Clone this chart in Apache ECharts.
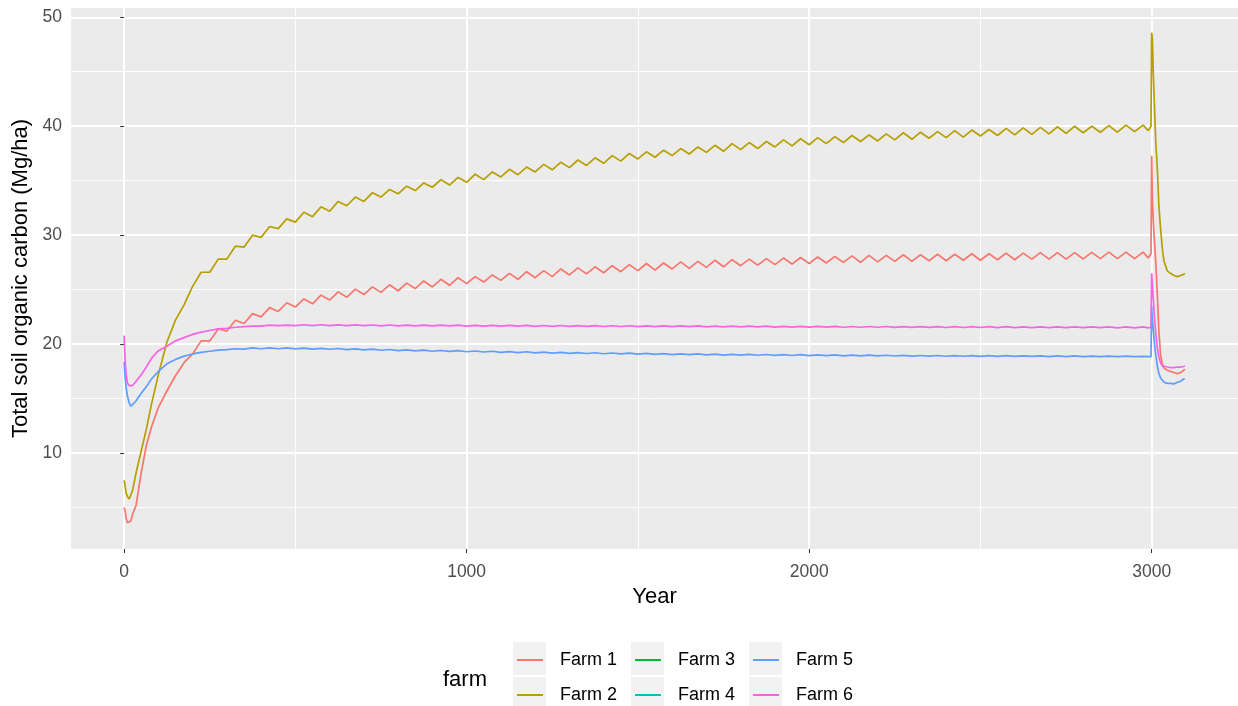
<!DOCTYPE html>
<html>
<head>
<meta charset="utf-8">
<script src="https://cdn.jsdelivr.net/npm/echarts@6.0.0/dist/echarts.min.js"></script>
<style>
html,body{margin:0;padding:0;background:#fff;}
#chart{width:1238px;height:706px;}
</style>
</head>
<body>
<div id="chart"></div>
<script>
// ---- data ----
const years = [
  0, 3, 6, 10, 15, 20, 25, 35, 50, 65, 80, 100, 125, 150, 175,
  200, 225, 250, 275, 300, 325, 350, 375,
  400, 425, 450, 475, 500, 525, 550, 575,
  600, 625, 650, 675, 700, 725, 750, 775,
  800, 825, 850, 875, 900, 925, 950, 975,
  1000, 1025, 1050, 1075, 1100, 1125, 1150, 1175,
  1200, 1225, 1250, 1275, 1300, 1325, 1350, 1375,
  1400, 1425, 1450, 1475, 1500, 1525, 1550, 1575,
  1600, 1625, 1650, 1675, 1700, 1725, 1750, 1775,
  1800, 1825, 1850, 1875, 1900, 1925, 1950, 1975,
  2000, 2025, 2050, 2075, 2100, 2125, 2150, 2175,
  2200, 2225, 2250, 2275, 2300, 2325, 2350, 2375,
  2400, 2425, 2450, 2475, 2500, 2525, 2550, 2575,
  2600, 2625, 2650, 2675, 2700, 2725, 2750, 2775,
  2800, 2825, 2850, 2875, 2900, 2925, 2950, 2975,
  2990, 2998, 3000, 3002, 3005, 3008, 3012, 3017, 3021, 3026, 3031, 3036, 3046, 3055, 3065, 3075, 3085, 3093, 3097
];

const farm1 = [
  5.0, 4.7, 4.0, 3.6, 3.5, 3.8, 4.4, 5.2, 8.2, 10.7, 12.4, 14.2, 15.7, 17.1, 18.3,
  19.1, 20.3, 20.3, 21.4, 21.2, 22.2, 21.9, 22.8,
  22.5, 23.35, 23.0, 23.8, 23.4, 24.15, 23.7, 24.5,
  24.05, 24.8, 24.3, 25.05, 24.55, 25.25, 24.75, 25.45,
  24.9, 25.6, 25.1, 25.8, 25.25, 25.95, 25.4, 26.1,
  25.55, 26.2, 25.7, 26.35, 25.85, 26.5, 25.95, 26.65,
  26.1, 26.75, 26.2, 26.9, 26.35, 27.0, 26.45, 27.1,
  26.55, 27.2, 26.65, 27.3, 26.75, 27.4, 26.8, 27.45,
  26.9, 27.55, 26.95, 27.6, 27.05, 27.7, 27.1, 27.75,
  27.2, 27.8, 27.25, 27.85, 27.3, 27.9, 27.35, 27.95,
  27.4, 28.0, 27.45, 28.05, 27.5, 28.1, 27.5, 28.15,
  27.55, 28.15, 27.6, 28.2, 27.6, 28.2, 27.65, 28.25,
  27.65, 28.25, 27.7, 28.3, 27.7, 28.3, 27.75, 28.35,
  27.75, 28.35, 27.8, 28.4, 27.8, 28.4, 27.8, 28.4,
  27.82, 28.42, 27.85, 28.45, 27.85, 28.45, 27.85, 28.45,
  27.9, 28.3, 37.3, 33.4, 31.0, 29.5, 27.5, 24.2, 21.2, 19.0, 18.2, 17.8, 17.6, 17.5, 17.4, 17.3, 17.4, 17.6, 17.7
];

const farm2 = [
  7.5, 7.0, 6.3, 6.0, 5.8, 5.9, 6.6, 8.2, 10.2, 12.2, 14.5, 17.2, 20.2, 22.2, 23.6,
  25.3, 26.6, 26.6, 27.8, 27.8, 29.0, 28.9, 30.0,
  29.8, 30.8, 30.6, 31.5, 31.2, 32.1, 31.7, 32.6,
  32.2, 33.1, 32.7, 33.5, 33.1, 33.9, 33.5, 34.2,
  33.8, 34.5, 34.1, 34.8, 34.4, 35.1, 34.6, 35.3,
  34.85, 35.6, 35.1, 35.8, 35.35, 36.05, 35.55, 36.25,
  35.8, 36.5, 36.0, 36.7, 36.2, 36.9, 36.4, 37.1,
  36.6, 37.3, 36.8, 37.5, 37.0, 37.65, 37.15, 37.8,
  37.3, 37.95, 37.45, 38.1, 37.6, 38.25, 37.7, 38.4,
  37.85, 38.5, 37.95, 38.6, 38.1, 38.75, 38.2, 38.85,
  38.3, 38.95, 38.4, 39.05, 38.5, 39.15, 38.6, 39.2,
  38.65, 39.3, 38.75, 39.4, 38.8, 39.45, 38.9, 39.5,
  38.95, 39.6, 39.0, 39.65, 39.1, 39.7, 39.15, 39.8,
  39.2, 39.85, 39.25, 39.9, 39.3, 39.95, 39.35, 40.0,
  39.4, 40.0, 39.45, 40.05, 39.45, 40.1, 39.5, 40.1,
  39.6, 40.0, 48.6, 48.0, 44.6, 42.0, 38.5, 35.8, 32.7, 30.6, 28.8, 27.6, 26.7, 26.5, 26.3, 26.2, 26.3, 26.4, 26.5
];

const farm3 = [];
const farm4 = [];

const farm5 = [
  18.4, 17.0, 16.0, 15.2, 14.6, 14.3, 14.35, 14.8, 15.5, 16.1, 16.8, 17.5, 18.2, 18.6, 18.9,
  19.1, 19.25, 19.35, 19.45, 19.5, 19.58, 19.55, 19.65,
  19.58, 19.66, 19.58, 19.65, 19.57, 19.64, 19.55, 19.62,
  19.53, 19.6, 19.5, 19.57, 19.47, 19.54, 19.44, 19.51,
  19.41, 19.48, 19.38, 19.45, 19.35, 19.42, 19.33, 19.4,
  19.3, 19.37, 19.28, 19.35, 19.25, 19.32, 19.23, 19.3,
  19.2, 19.27, 19.18, 19.25, 19.16, 19.23, 19.14, 19.21,
  19.12, 19.19, 19.1, 19.17, 19.08, 19.15, 19.06, 19.13,
  19.04, 19.11, 19.03, 19.1, 19.01, 19.08, 19.0, 19.07,
  18.99, 19.06, 18.98, 19.05, 18.97, 19.04, 18.96, 19.03,
  18.95, 19.02, 18.94, 19.01, 18.93, 19.0, 18.92, 18.99,
  18.92, 18.98, 18.91, 18.97, 18.9, 18.96, 18.9, 18.96,
  18.89, 18.95, 18.89, 18.95, 18.88, 18.94, 18.88, 18.94,
  18.87, 18.93, 18.87, 18.93, 18.86, 18.92, 18.86, 18.92,
  18.85, 18.9, 18.85, 18.9, 18.85, 18.9, 18.85, 18.88,
  18.85, 18.85, 23.5, 22.2, 21.2, 20.2, 19.0, 17.9, 17.3, 16.9, 16.7, 16.5, 16.4, 16.4, 16.35, 16.5, 16.6, 16.8, 16.8
];

const farm6 = [
  20.8, 18.6, 17.2, 16.4, 16.2, 16.1, 16.2, 16.6, 17.2, 17.9, 18.7, 19.4, 19.8, 20.3, 20.6,
  20.9, 21.1, 21.25, 21.4, 21.45, 21.55, 21.6, 21.65,
  21.65, 21.75, 21.7, 21.75, 21.7, 21.78, 21.7, 21.78,
  21.7, 21.77, 21.7, 21.77, 21.7, 21.76, 21.68, 21.76,
  21.68, 21.75, 21.68, 21.75, 21.67, 21.74, 21.67, 21.74,
  21.66, 21.73, 21.66, 21.73, 21.65, 21.72, 21.65, 21.72,
  21.64, 21.71, 21.64, 21.71, 21.63, 21.7, 21.63, 21.7,
  21.62, 21.69, 21.62, 21.69, 21.61, 21.68, 21.61, 21.68,
  21.6, 21.67, 21.6, 21.67, 21.59, 21.66, 21.59, 21.66,
  21.58, 21.65, 21.58, 21.65, 21.57, 21.64, 21.57, 21.64,
  21.56, 21.63, 21.56, 21.63, 21.55, 21.62, 21.55, 21.62,
  21.55, 21.62, 21.54, 21.61, 21.54, 21.61, 21.54, 21.61,
  21.53, 21.6, 21.53, 21.6, 21.53, 21.6, 21.52, 21.6,
  21.52, 21.59, 21.52, 21.59, 21.52, 21.59, 21.51, 21.58,
  21.51, 21.58, 21.51, 21.58, 21.5, 21.58, 21.5, 21.58,
  21.5, 21.55, 26.5, 25.5, 24.0, 22.5, 21.0, 19.6, 18.8, 18.3, 18.0, 17.9, 17.9, 17.85, 17.85, 17.9, 17.9, 17.95, 18.0
];

const farmNames = ['Farm 1', 'Farm 2', 'Farm 3', 'Farm 4', 'Farm 5', 'Farm 6'];
const farmValues = [farm1, farm2, farm3, farm4, farm5, farm6];
const farmColors = ['#F8766D', '#B79F00', '#00BA38', '#00BFC4', '#619CFF', '#F564E3'];

const xTicks = [0, 1000, 2000, 3000];
const xMinorTicks = [500, 1500, 2500];
const yTicks = [10, 20, 30, 40, 50];
const yMinorTicks = [5, 15, 25, 35, 45];

const X_MIN = -155, X_MAX = 3252;
const Y_MIN = 1.2, Y_MAX = 50.85;

// ---- chart ----
const FONT = '"Liberation Sans", Arial, sans-serif';
const chart = echarts.init(document.getElementById('chart'), null, {renderer: 'canvas'});

const series = farmNames.map((name, i) => ({
  name: name,
  type: 'line',
  xAxisIndex: 0,
  yAxisIndex: 0,
  showSymbol: false,
  symbol: 'none',
  color: farmColors[i],
  lineStyle: {width: 1.7, color: farmColors[i]},
  data: farmValues[i].map((v, j) => [years[j], v]),
  animation: false,
  silent: true
}));

const legendBase = {
  orient: 'vertical',
  itemWidth: 26,
  itemHeight: 2,
  itemGap: 13,
  icon: 'rect',
  padding: 0,
  selectedMode: false,
  textStyle: {fontSize: 18, color: '#000', fontFamily: FONT, lineHeight: 22, padding: [0, 0, 0, 12]}
};

const keyBoxes = [];
[513, 631, 749].forEach(x => {
  [642, 677].forEach(y => {
    keyBoxes.push({type: 'rect', left: x, top: y, shape: {width: 33, height: 33}, style: {fill: '#F2F2F2'}, z: -1, silent: true});
  });
});

const option = {
  backgroundColor: '#ffffff',
  animation: false,
  title: {
    text: 'farm', left: 443, top: 669, padding: 0,
    textStyle: {fontSize: 22, fontWeight: 'normal', color: '#000', fontFamily: FONT}
  },
  graphic: keyBoxes,
  legend: [
    Object.assign({}, legendBase, {left: 517, top: 649, data: ['Farm 1', 'Farm 2']}),
    Object.assign({}, legendBase, {left: 635, top: 649, data: ['Farm 3', 'Farm 4']}),
    Object.assign({}, legendBase, {left: 753, top: 649, data: ['Farm 5', 'Farm 6']})
  ],
  grid: {
    left: 71, right: 0, top: 8, bottom: 157,
    show: true, backgroundColor: '#EBEBEB', borderWidth: 0, containLabel: false
  },
  xAxis: [
    {
      type: 'value', min: X_MIN, max: X_MAX, position: 'bottom',
      name: 'Year', nameLocation: 'middle', nameGap: 35,
      nameTextStyle: {fontSize: 22, color: '#000', fontFamily: FONT},
      axisLine: {show: false},
      axisTick: {show: true, length: 4, customValues: xTicks, lineStyle: {color: '#333333', width: 1}},
      axisLabel: {customValues: xTicks, color: '#4D4D4D', fontSize: 17.5, margin: 14, fontFamily: FONT, formatter: v => String(v)},
      splitLine: {show: true, lineStyle: {color: '#FFFFFF', width: 2}}
    },
    {
      type: 'value', min: X_MIN, max: X_MAX, position: 'top',
      axisLine: {show: false},
      axisTick: {show: false, customValues: xMinorTicks},
      axisLabel: {show: false, customValues: xMinorTicks},
      splitLine: {show: true, lineStyle: {color: '#FFFFFF', width: 1}}
    }
  ],
  yAxis: [
    {
      type: 'value', min: Y_MIN, max: Y_MAX, position: 'left',
      name: 'Total soil organic carbon (Mg/ha)', nameLocation: 'middle', nameGap: 37,
      nameTextStyle: {fontSize: 22, color: '#000', fontFamily: FONT},
      axisLine: {show: false},
      axisTick: {show: true, length: 4, customValues: yTicks, lineStyle: {color: '#333333', width: 1}},
      axisLabel: {customValues: yTicks, color: '#4D4D4D', fontSize: 17.5, margin: 9, fontFamily: FONT, formatter: v => String(v)},
      splitLine: {show: true, lineStyle: {color: '#FFFFFF', width: 2}}
    },
    {
      type: 'value', min: Y_MIN, max: Y_MAX, position: 'right',
      axisLine: {show: false},
      axisTick: {show: false, customValues: yMinorTicks},
      axisLabel: {show: false, customValues: yMinorTicks},
      splitLine: {show: true, lineStyle: {color: '#FFFFFF', width: 1}}
    }
  ],
  series: series
};

chart.setOption(option);
</script>
</body>
</html>
